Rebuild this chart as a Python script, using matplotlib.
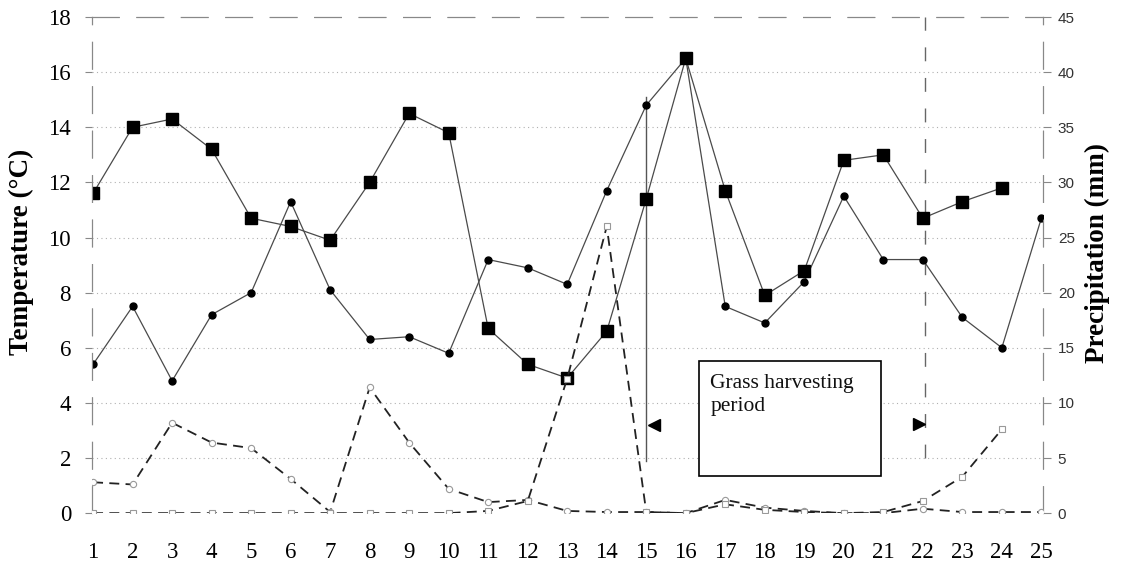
import matplotlib.pyplot as plt
from matplotlib.patches import Rectangle

days = list(range(1, 26))

# temperature series (deg C)
temp_squares = [11.6, 14.0, 14.3, 13.2, 10.7, 10.4, 9.9, 12.0, 14.5, 13.8, 6.7, 5.4,
                4.9, 6.6, 11.4, 16.5, 11.7, 7.9, 8.8, 12.8, 13.0, 10.7, 11.3, 11.8]
temp_dots = [5.4, 7.5, 4.8, 7.2, 8.0, 11.3, 8.1, 6.3, 6.4, 5.8, 9.2, 8.9, 8.3,
             11.7, 14.8, 16.5, 7.5, 6.9, 8.4, 11.5, 9.2, 9.2, 7.1, 6.0, 10.7]

# precipitation series (mm)
precip_a = [2.8, 2.6, 8.2, 6.4, 5.9, 3.1, 0.1, 11.4, 6.4, 2.2, 1.0, 1.2, 0.2,
            0.1, 0.1, 0.0, 1.2, 0.5, 0.2, 0.0, 0.0, 0.4, 0.1, 0.1, 0.1]
precip_b = [0.0, 0.0, 0.0, 0.0, 0.0, 0.0, 0.0, 0.0, 0.0, 0.0, 0.2, 1.1, 12.2,
            26.0, 0.1, 0.0, 0.8, 0.3, 0.1, 0.0, 0.1, 1.1, 3.3, 7.6]

temp_ticks = list(range(0, 19, 2))
precip_ticks = list(range(0, 46, 5))

fig = plt.figure(figsize=(11.21, 5.67), dpi=100)
ax = fig.add_axes([0.082, 0.095, 0.848, 0.875])
ax2 = ax.twinx()

serif = ["Liberation Serif", "DejaVu Serif"]

# grid
for v in temp_ticks[1:-1]:
    ax.axhline(v, color="#b0b0b0", lw=0.8, ls=(0, (1, 3)), zorder=0)

# precipitation (dashed)
ax2.plot(days, precip_a, ls=(0, (5.5, 3.5)), color="#222222", lw=1.3, marker="o",
         markersize=4.5, markerfacecolor="white", markeredgecolor="#999999",
         markeredgewidth=0.8, zorder=3)
ax2.plot(days[:len(precip_b)], precip_b, ls=(0, (5.5, 3.5)), color="#222222", lw=1.3,
         marker="s", markersize=4.5, markerfacecolor="white",
         markeredgecolor="#999999", markeredgewidth=0.8, zorder=3)

# temperature
ax.plot(days, temp_dots, color="#4a4a4a", lw=0.9, marker="o", markersize=5,
        markerfacecolor="black", markeredgecolor="black", zorder=4)
ax.plot(days[:len(temp_squares)], temp_squares, color="#4a4a4a", lw=0.9,
        marker="s", markersize=8, markerfacecolor="black",
        markeredgecolor="black", zorder=5)

# harvesting period markers
ax.plot([15, 15], [1.9, 15.1], color="#555555", lw=1.0, zorder=2)
ax.plot([22.05, 22.05], [2.0, 18], color="#666666", lw=1.0,
        ls=(0, (10, 12)), zorder=2)
ax.plot([15.2], [3.2], marker="<", color="black", markersize=8, zorder=6)
ax.plot([21.9], [3.25], marker=">", color="black", markersize=8, zorder=6)
ax.add_patch(Rectangle((16.33, 1.35), 4.6, 4.18, facecolor="white",
                       edgecolor="black", lw=1.2, zorder=7))
ax.text(16.62, 5.05, "Grass harvesting\nperiod", family=serif, fontsize=15.5,
        va="top", ha="left", linespacing=1.3, color="#111111", zorder=8)

ax.set_xlim(0.97, 25.03)
ax.set_ylim(0, 18)
ax2.set_ylim(0, 45)
ax.set_xticks(days)
ax.set_yticks(temp_ticks)
ax2.set_yticks(precip_ticks)

for lab in ax.get_xticklabels() + ax.get_yticklabels():
    lab.set_family(serif)
    lab.set_fontsize(16.5)
for lab in ax2.get_yticklabels():
    lab.set_family(["Liberation Sans", "DejaVu Sans"])
    lab.set_fontsize(11)
    lab.set_color("#333333")

ax.tick_params(axis="x", length=0, pad=21)
ax.tick_params(axis="y", length=5, width=0.8, color="#888888", pad=10)
ax2.tick_params(axis="y", length=6, width=0.8, color="#888888", pad=5)

for a in (ax, ax2):
    a.spines["bottom"].set_visible(False)
    for side in ("top", "left", "right"):
        a.spines[side].set_color("#888888")
        a.spines[side].set_linewidth(0.8)
        a.spines[side].set_linestyle((0, (24, 16)))

fig.text(21 / 1121, 1 - 252 / 567, "Temperature (\u00b0C)", rotation=90,
         ha="center", va="center", family=serif, fontsize=19.5, fontweight="bold")
fig.text(1097 / 1121, 1 - 253 / 567, "Precipitation (mm)", rotation=90,
         ha="center", va="center", family=serif, fontsize=19.5, fontweight="bold")

fig.savefig("out.png", dpi=100)
